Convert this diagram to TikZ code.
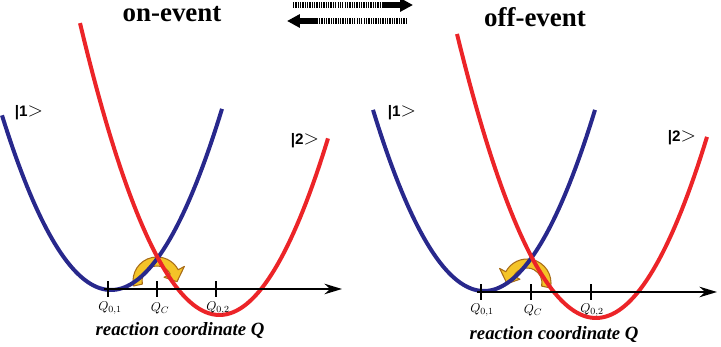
\documentclass[tikz,border=0pt]{standalone}
\usepackage{amsmath,amssymb}
\usepackage{fontspec}
\setmainfont{Liberation Serif}
\newfontfamily\ketfont{Liberation Sans}
\usepackage{tikz}
\usepackage{xcolor}
\usetikzlibrary{arrows.meta, calc}

\definecolor{statea}{RGB}{40,40,140}
\definecolor{stateb}{RGB}{236,36,40}
\definecolor{hopfill}{RGB}{244,196,40}
\definecolor{hopedge}{RGB}{168,108,24}

\newcommand{\ketclose}{{\mdseries\fontsize{17}{17}\selectfont$>$}}

\begin{document}
\begin{tikzpicture}[x=0.03cm, y=0.03cm,
    title/.style={font=\fontsize{23}{23}\selectfont\bfseries, inner sep=0pt},
    ket/.style={font=\ketfont\fontsize{13}{13}\selectfont\bfseries, inner sep=0pt},
    qlabel/.style={font=\fontsize{11}{11}\selectfont, inner sep=0pt},
    axlabel/.style={font=\fontsize{16}{16}\selectfont\bfseries\itshape, inner sep=0pt},
    curvea/.style={draw=statea, line width=3.4pt},
    curveb/.style={draw=stateb, line width=3.4pt},
    axis/.style={draw=black, line width=1.6pt, -{Stealth[length=15pt, width=9pt]}},
    tick/.style={draw=black, line width=1.6pt},
    hop/.style={draw=hopedge, fill=hopfill, line width=0.9pt, line join=round},
    hatch/.style={draw=black, line width=4.5pt, dash pattern=on 1.1pt off 0.9pt},
    solidhead/.style={draw=black, line width=4.5pt, -{Triangle[length=11pt, width=11pt]}}
]
    \useasboundingbox (0,0) rectangle (721,347);

    % titles and the switching arrows
    \node[title] (ontitle) at (172,333) {on-event};
    \node[title] (offtitle) at (535,330) {off-event};

    \coordinate (fw1) at (293,342);
    \coordinate (fw2) at (383,342);
    \coordinate (fw3) at (413,342);
    \coordinate (bw1) at (407,326);
    \coordinate (bw2) at (318,326);
    \coordinate (bw3) at (287,326);
    \draw[hatch] (fw1) -- (fw2);
    \draw[solidhead] (fw2) -- (fw3);
    \draw[hatch] (bw1) -- (bw2);
    \draw[solidhead] (bw2) -- (bw3);

    % left panel: on-event
    \coordinate (hopl) at (157,66);
    \path[hop] ($(hopl)+(192:24)$) arc[start angle=192, end angle=28, radius=24]
        -- ($(hopl)+(28:31)$) -- ($(hopl)+(-2:20)$) -- ($(hopl)+(28:8)$)
        -- ($(hopl)+(28:15)$) arc[start angle=28, end angle=192, radius=15] -- cycle;

    \draw[curvea] plot[domain=2:222, samples=80] (\x, {57+1.47*((\x-111)/10)^2});
    \draw[curveb] plot[domain=80:328, samples=80] (\x, {32+1.5*((\x-219.5)/10)^2});

    \coordinate (axl0) at (104,58);
    \coordinate (axl1) at (342,58);
    \draw[axis] (axl0) -- (axl1);
    \coordinate (ql1) at (108,58);
    \coordinate (qlc) at (157,58);
    \coordinate (ql2) at (216,58);
    \draw[tick] ($(ql1)+(0,-8)$) -- ($(ql1)+(0,8)$);
    \draw[tick] ($(qlc)+(0,-8)$) -- ($(qlc)+(0,8)$);
    \draw[tick] ($(ql2)+(0,-8)$) -- ($(ql2)+(0,8)$);
    \node[qlabel] (ql1lab) at (110,39) {$Q_{0,1}$};
    \node[qlabel] (qlclab) at (160,39) {$Q_{C}$};
    \node[qlabel] (ql2lab) at (218,39) {$Q_{0,2}$};
    \node[axlabel] (axllab) at (180,16) {reaction coordinate Q};

    \node[ket] (ketla) at (29,234) {|1\ketclose};
    \node[ket] (ketlb) at (305,206) {|2\ketclose};

    % right panel: off-event
    \coordinate (hopr) at (527,64);
    \path[hop] ($(hopr)+(-12:24)$) arc[start angle=-12, end angle=152, radius=24]
        -- ($(hopr)+(152:31)$) -- ($(hopr)+(182:20)$) -- ($(hopr)+(152:8)$)
        -- ($(hopr)+(152:15)$) arc[start angle=152, end angle=-12, radius=15] -- cycle;

    \draw[curvea] plot[domain=373:595, samples=80] (\x, {56+1.47*((\x-484)/10)^2});
    \draw[curveb] plot[domain=457:707, samples=80] (\x, {29+1.47*((\x-596)/10)^2});

    \coordinate (axr0) at (477,55);
    \coordinate (axr1) at (717,55);
    \draw[axis] (axr0) -- (axr1);
    \coordinate (qr1) at (481,55);
    \coordinate (qrc) at (531,55);
    \coordinate (qr2) at (591,55);
    \draw[tick] ($(qr1)+(0,-8)$) -- ($(qr1)+(0,8)$);
    \draw[tick] ($(qrc)+(0,-8)$) -- ($(qrc)+(0,8)$);
    \draw[tick] ($(qr2)+(0,-8)$) -- ($(qr2)+(0,8)$);
    \node[qlabel] (qr1lab) at (482,37) {$Q_{0,1}$};
    \node[qlabel] (qrclab) at (533,37) {$Q_{C}$};
    \node[qlabel] (qr2lab) at (592,37) {$Q_{0,2}$};
    \node[axlabel] (axrlab) at (554,12) {reaction coordinate Q};

    \node[ket] (ketra) at (402,234) {|1\ketclose};
    \node[ket] (ketrb) at (682,209) {|2\ketclose};
\end{tikzpicture}
\end{document}
